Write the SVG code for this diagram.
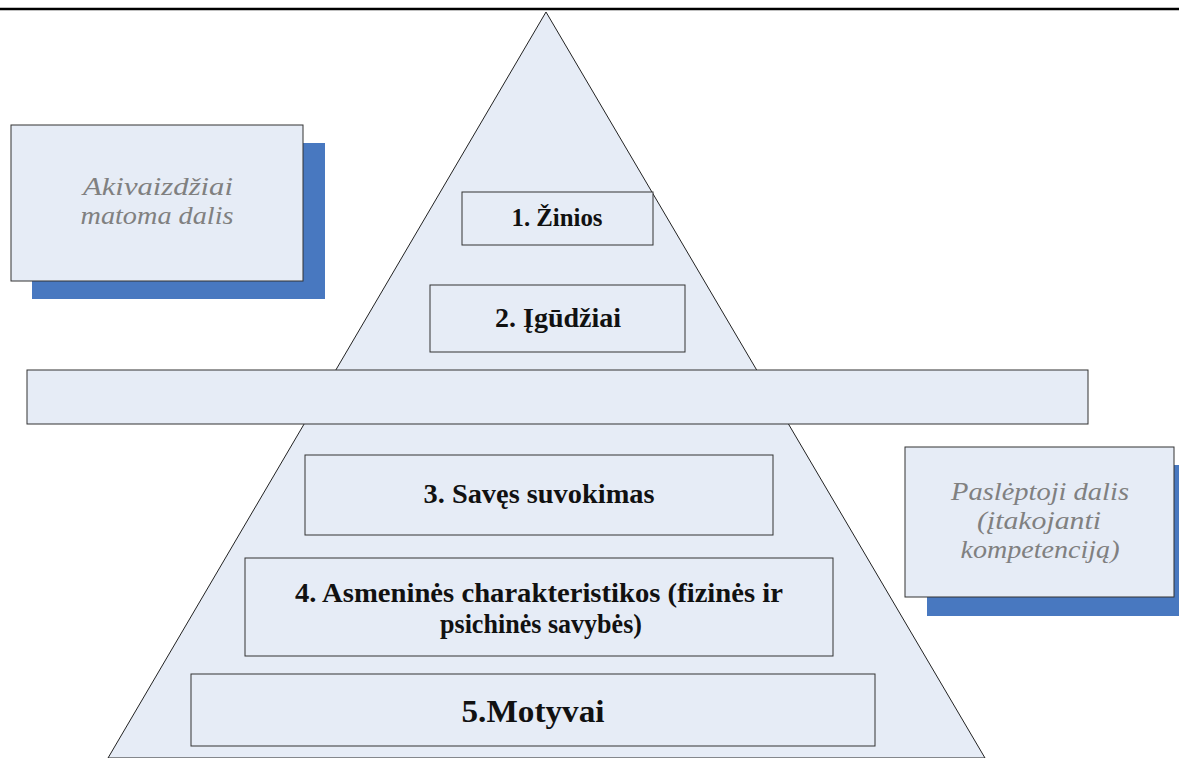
<svg xmlns="http://www.w3.org/2000/svg" width="1179" height="758" viewBox="0 0 1179 758">
<style>
.box{fill:#E6ECF6;stroke:#333;stroke-width:1}
.shadow{fill:#4878C0}
.b{font-family:'Liberation Serif','Times New Roman',serif;font-weight:bold;fill:#111;text-anchor:middle}
.i{font-family:'Liberation Serif','Times New Roman',serif;font-style:italic;fill:#808080;text-anchor:middle;font-size:25px}
</style>
<rect width="1179" height="758" fill="#fff"/>
<line x1="0" y1="9" x2="1179" y2="9" stroke="#000" stroke-width="2.5"/>
<g id="pyramid">
<polygon points="546,12 108,758 985,758" fill="#E6ECF6" stroke="#222" stroke-width="1"/>
</g>
<g id="visible">
<rect class="shadow" x="32" y="143" width="293" height="156"/>
<rect class="box" x="11" y="125" width="292" height="156"/>
<text class="i" x="158" y="195" textLength="150" lengthAdjust="spacingAndGlyphs">Akivaizdžiai</text>
<text class="i" x="157" y="224" textLength="153" lengthAdjust="spacingAndGlyphs">matoma dalis</text>
</g>
<g id="hidden">
<rect class="shadow" x="927" y="465" width="252" height="151"/>
<rect class="box" x="905" y="447" width="269" height="150"/>
<text class="i" x="1040" y="500" textLength="178" lengthAdjust="spacingAndGlyphs">Paslėptoji dalis</text>
<text class="i" x="1039" y="529" textLength="124" lengthAdjust="spacingAndGlyphs">(įtakojanti</text>
<text class="i" x="1040" y="558" textLength="159" lengthAdjust="spacingAndGlyphs">kompetenciją)</text>
</g>
<g id="n1">
<rect class="box" x="462" y="192" width="191" height="53"/>
<text class="b" x="557" y="226" font-size="25" textLength="91" lengthAdjust="spacingAndGlyphs">1. Žinios</text>
</g>
<g id="n2">
<rect class="box" x="430" y="285" width="255" height="67"/>
<text class="b" x="558" y="327" font-size="27" textLength="126" lengthAdjust="spacingAndGlyphs">2. Įgūdžiai</text>
</g>
<g id="divider">
<rect class="box" x="27" y="370" width="1061" height="54"/>
</g>
<g id="n3">
<rect class="box" x="305" y="455" width="468" height="80"/>
<text class="b" x="539" y="503" font-size="27" textLength="231" lengthAdjust="spacingAndGlyphs">3. Savęs suvokimas</text>
</g>
<g id="n4">
<rect class="box" x="245" y="558" width="588" height="98"/>
<text class="b" x="539" y="602" font-size="27" textLength="488" lengthAdjust="spacingAndGlyphs">4. Asmeninės charakteristikos (fizinės ir</text>
<text class="b" x="541" y="633" font-size="27" textLength="202" lengthAdjust="spacingAndGlyphs">psichinės savybės)</text>
</g>
<g id="n5">
<rect class="box" x="191" y="674" width="684" height="72"/>
<text class="b" x="533" y="722" font-size="32" textLength="143" lengthAdjust="spacingAndGlyphs">5.Motyvai</text>
</g>
<g id="connectors"></g>
</svg>
